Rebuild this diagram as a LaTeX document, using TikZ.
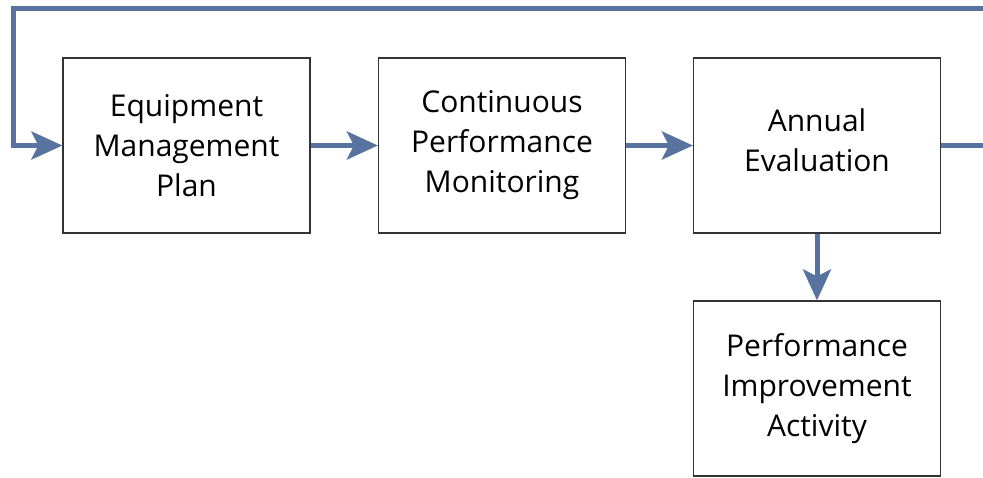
\documentclass[tikz,border=0pt]{standalone}
\usepackage{fontspec}
\setmainfont{Open Sans}
\usetikzlibrary{arrows.meta}
\definecolor{flow}{HTML}{5873A0}
\definecolor{edge}{HTML}{333333}
\begin{document}
\begin{tikzpicture}[x=1pt,y=-1pt,
  box/.style={draw=edge,line width=1.2pt,minimum width=247pt,minimum height=175pt,
    inner sep=0pt,align=center,font=\fontsize{30}{40}\selectfont},
  flowline/.style={draw=flow,line width=5pt},
  flowarrow/.style={flowline,-{Stealth[length=31pt,width=28pt,inset=7pt]}}]
\useasboundingbox (0,0) rectangle (983,477);
\node[box] (b1) at (186.5,145.5) {Equipment\\Management\\Plan};
\node[box] (b2) at (502,145.5) {Continuous\\Performance\\Monitoring};
\node[box] (b3) at (817,145.5) {Annual\\Evaluation\rule[-10pt]{0pt}{0pt}};
\node[box] (b4) at (817,388.5) {Performance\\Improvement\\Activity};
\coordinate (rt) at (984,145.5);
\coordinate (tr) at (984,8);
\coordinate (tl) at (13,8);
\draw[flowarrow] (b1.east) -- (b2.west);
\draw[flowarrow] (b2.east) -- (b3.west);
\draw[flowarrow] (b3.south) -- (b4.north);
\draw[flowline] (b3.east) -- (rt);
\draw[flowarrow] (tr) -- (tl) |- (b1.west);
\end{tikzpicture}
\end{document}
